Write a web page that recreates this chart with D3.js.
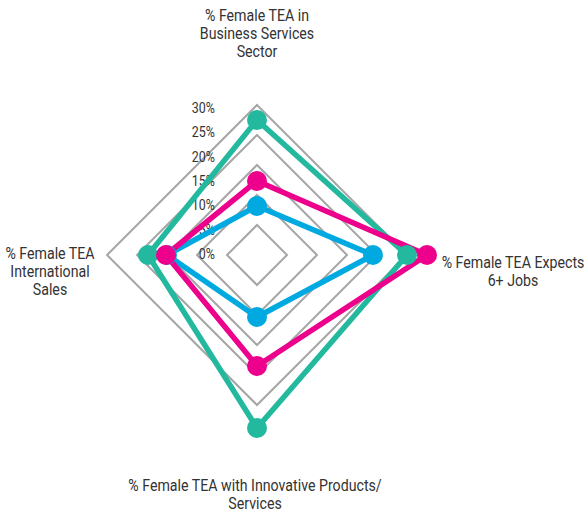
<!DOCTYPE html>
<html>
<head>
<meta charset="utf-8">
<script src="https://cdn.jsdelivr.net/npm/d3@7"></script>
<style>
  html, body { margin: 0; padding: 0; background: #fff; }
  svg text { font-family: Roboto, "DejaVu Sans", sans-serif; fill: #333; }
</style>
</head>
<body>
<svg id="chart" width="588" height="513"></svg>
<script>
// Axes of the radar, clockwise from the top
const axes = [
  "% Female TEA in Business Services Sector",
  "% Female TEA Expects 6+ Jobs",
  "% Female TEA with Innovative Products/ Services",
  "% Female TEA International Sales"
];
const axisLabelLines = [
  ["% Female TEA in", "Business Services", "Sector"],
  ["% Female TEA Expects", "6+ Jobs"],
  ["% Female TEA with Innovative Products/", "Services"],
  ["% Female TEA", "International", "Sales"]
];
// Values in percent, one per axis
const blueValues  = [9.8, 23.2, 12.4, 18.0];
const greenValues = [27.0, 30.0, 34.6, 21.8];
const pinkValues  = [14.8, 34.0, 22.2, 18.2];
const seriesColors = ["#00a9e0", "#23b99f", "#ec008c"];
const tickValues = [0, 5, 10, 15, 20, 25, 30];
const gridValues = [6, 12, 18, 24, 30];

const series = [blueValues, greenValues, pinkValues];

const svg = d3.select("#chart");
const cx = 257, cy = 255;
const squeeze = 0.86; // condensed look for all text
const r = d3.scaleLinear().domain([0, 30]).range([0, 150]);
const angle = d3.scaleBand().domain(d3.range(axes.length)).range([0, 2 * Math.PI]);
const ang = i => angle(i);

const g = svg.append("g").attr("transform", `translate(${cx},${cy})`);

const radial = d3.lineRadial()
  .angle((d, i) => ang(i))
  .radius(d => r(d))
  .curve(d3.curveLinearClosed);

// Grid polygons
g.selectAll("path.grid")
  .data(gridValues)
  .join("path")
  .attr("class", "grid")
  .attr("d", v => radial(axes.map(() => v)))
  .attr("fill", "none")
  .attr("stroke", "#a6a6a6")
  .attr("stroke-width", 2);

// Tick labels along the vertical axis
const tickScale = d3.scaleLinear().domain([0, 30]).range([-1, -147]);
g.selectAll("g.tick")
  .data(tickValues)
  .join("g")
  .attr("class", "tick")
  .attr("transform", v => `translate(-42,${tickScale(v) + 5}) scale(${squeeze},1)`)
  .append("text")
  .attr("text-anchor", "end")
  .attr("font-size", 14.5)
  .attr("fill", "#444")
  .text(v => v + "%");

// Series lines
g.selectAll("path.series")
  .data(series)
  .join("path")
  .attr("class", "series")
  .attr("d", d => radial(d))
  .attr("fill", "none")
  .attr("stroke", (d, i) => seriesColors[i])
  .attr("stroke-width", 5.5)
  .attr("stroke-linejoin", "round");

// Series markers
series.forEach((vals, si) => {
  g.selectAll(`circle.m${si}`)
    .data(vals)
    .join("circle")
    .attr("class", `m${si}`)
    .attr("cx", (d, i) => Math.sin(ang(i)) * r(d))
    .attr("cy", (d, i) => -Math.cos(ang(i)) * r(d))
    .attr("r", 10)
    .attr("fill", seriesColors[si]);
});

// Axis titles
const labelPos = [
  { x: 257, y: 21 },
  { x: 513, y: 268 },
  { x: 255, y: 491 },
  { x: 50,  y: 259 }
];
axisLabelLines.forEach((lines, i) => {
  const t = svg.append("g")
    .attr("transform", `translate(${labelPos[i].x},${labelPos[i].y}) scale(${squeeze},1)`)
    .append("text")
    .attr("text-anchor", "middle")
    .attr("font-size", 16.5);
  lines.forEach((line, k) => {
    t.append("tspan")
      .attr("x", 0)
      .attr("dy", k === 0 ? 0 : 18)
      .text(line);
  });
});
</script>
</body>
</html>
